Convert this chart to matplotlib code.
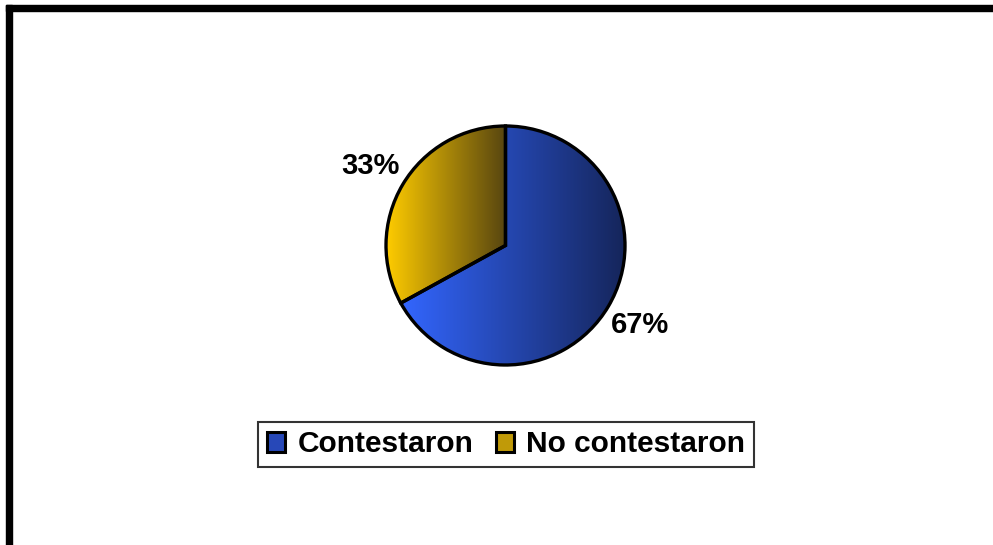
import numpy as np
import matplotlib.pyplot as plt
from matplotlib.colors import LinearSegmentedColormap
from matplotlib.patches import Patch, Rectangle

plt.rcParams['font.family'] = ['Liberation Sans', 'DejaVu Sans']

categories = ["Contestaron", "No contestaron"]
values = [67, 33]
# left -> right gradient colours for each slice
gradients = [("#3366FF", "#15255A"), ("#FFCC00", "#574510")]
legend_colors = ["#2748B8", "#C09A08"]

W, H = 993, 545
fig = plt.figure(figsize=(W / 100, H / 100), dpi=100)

# pie axes: centre ~(505.5, 245.5) px, radius ~119.5 px
r = 119.5
cx, cy = 505.5, 245.5
ax = fig.add_axes([(cx - r) / W, (H - cy - r) / H, 2 * r / W, 2 * r / H])

wedges, texts, autotexts = ax.pie(
    values, startangle=90, counterclock=False,
    autopct="%1.0f%%", pctdistance=1.31,
    wedgeprops=dict(facecolor="none", edgecolor="black", linewidth=2.4, zorder=3),
    textprops=dict(fontsize=21, fontweight="bold", color="black"),
)

# gradient fill, clipped to each wedge
grad = np.linspace(0, 1, 256).reshape(1, -1)
for w, (c0, c1) in zip(wedges, gradients):
    bb = w.get_path().get_extents()
    cmap = LinearSegmentedColormap.from_list("g", [c0, c1])
    im = ax.imshow(grad, cmap=cmap, aspect="auto", zorder=1,
                   extent=[bb.x0, bb.x1, bb.y0, bb.y1], interpolation="bilinear")
    im.set_clip_path(w)

ax.set_xlim(-1, 1)
ax.set_ylim(-1, 1)
ax.set_aspect("equal")
ax.axis("off")

# legend
handles = [Patch(facecolor=c, edgecolor="black", linewidth=2.2) for c in legend_colors]
leg = fig.legend(handles, categories, loc="center", ncol=2,
                 bbox_to_anchor=(506 / W, 1 - 444.5 / H),
                 prop=dict(size=21.5, weight="bold"),
                 frameon=True, fancybox=False, edgecolor="black",
                 handlelength=0.62, handleheight=0.62, handletextpad=0.4,
                 columnspacing=0.75, borderpad=0.3, borderaxespad=0)
leg.get_frame().set_linewidth(1.5)

# outer chart frame (top and left edges visible)
fig.add_artist(Rectangle((6 / W, 1 - 11 / H), 1 - 6 / W, 6 / H,
                         transform=fig.transFigure, color="black"))
fig.add_artist(Rectangle((6 / W, 0), 6 / W, 1 - 5 / H,
                         transform=fig.transFigure, color="black"))

fig.savefig("out.png", dpi=100, facecolor="white")
